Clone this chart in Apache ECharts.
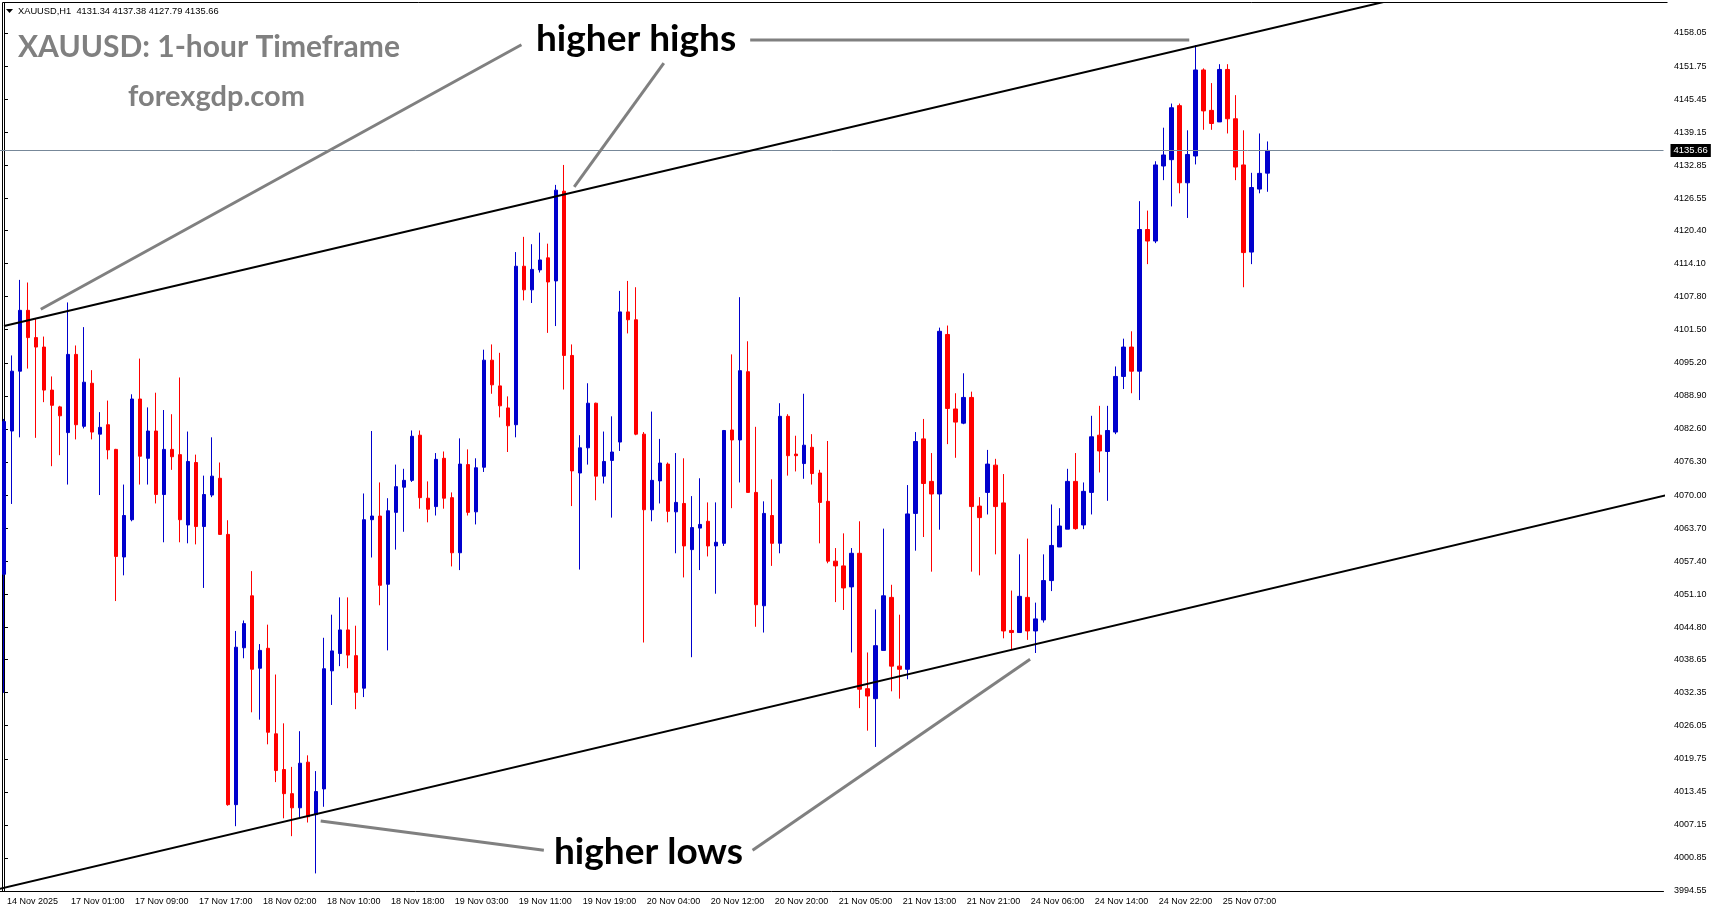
<!DOCTYPE html>
<html>
<head>
<meta charset="utf-8">
<title>XAUUSD H1</title>
<script src="https://cdn.jsdelivr.net/npm/echarts@6.0.0/dist/echarts.min.js"></script>
<style>
  html, body { margin: 0; padding: 0; background: #fff; }
  #main { width: 1714px; height: 915px; }
</style>
</head>
<body>
<div id="main"></div>
<script>
  // time labels, one every 8 bars
  const xLabels = ['14 Nov 2025', '17 Nov 01:00', '17 Nov 09:00', '17 Nov 17:00', '18 Nov 02:00',
    '18 Nov 10:00', '18 Nov 18:00', '19 Nov 03:00', '19 Nov 11:00', '19 Nov 19:00',
    '20 Nov 04:00', '20 Nov 12:00', '20 Nov 20:00', '21 Nov 05:00', '21 Nov 13:00',
    '21 Nov 21:00', '24 Nov 06:00', '24 Nov 14:00', '24 Nov 22:00', '25 Nov 07:00'];

  const opens = [
    4054.9, 4082.2, 4093.6, 4105.2, 4100.0, 4098.2, 4090.0, 4086.8, 4081.9, 4096.8,
    4083.1, 4091.3, 4081.6, 4083.4, 4078.7, 4058.2, 4065.3, 4088.3, 4077.0, 4082.2,
    4070.1, 4078.7, 4077.7, 4064.3, 4076.2, 4064.0, 4070.0, 4073.2, 4062.5, 4011.0,
    4040.9, 4050.8, 4037.0, 4040.8, 4024.5, 4017.7, 4013.1, 4010.4, 4019.1, 4009.1,
    4014.0, 4036.5, 4039.8, 4044.3, 4039.4, 4033.2, 4065.3, 4066.0, 4053.0, 4066.7,
    4071.5, 4072.8, 4081.4, 4069.4, 4067.8, 4077.0, 4069.5, 4059.0, 4075.8, 4066.8,
    4075.3, 4095.7, 4090.8, 4086.6, 4083.4, 4113.6, 4109.1, 4112.9, 4115.2, 4110.8,
    4127.9, 4096.6, 4074.2, 4079.0, 4087.5, 4073.6, 4076.6, 4080.1, 4104.9, 4103.4,
    4081.6, 4067.2, 4072.7, 4075.9, 4066.8, 4068.4, 4059.6, 4063.7, 4065.0, 4060.3,
    4060.8, 4082.4, 4080.5, 4093.5, 4070.5, 4048.9, 4066.1, 4060.8, 4085.0, 4077.8,
    4076.0, 4079.1, 4074.2, 4068.8, 4057.4, 4056.5, 4052.5, 4058.9, 4033.1, 4031.2,
    4040.4, 4050.5, 4037.4, 4036.8, 4066.5, 4080.7, 4072.6, 4070.2, 4100.6, 4086.4,
    4083.7, 4088.6, 4067.9, 4070.5, 4075.7, 4068.5, 4044.2, 4043.8, 4050.5, 4044.1,
    4046.2, 4053.7, 4060.1, 4063.5, 4072.6, 4064.3, 4070.5, 4081.4, 4078.3, 4082.0,
    4092.6, 4098.2, 4093.6, 4120.6, 4118.4, 4132.7, 4133.9, 4144.2, 4129.5, 4134.6,
    4151.0, 4143.3, 4141.1, 4151.1, 4141.7, 4132.9, 4116.3, 4128.3, 4131.34];

  const highs = [
    4084.5, 4096.6, 4111.0, 4110.5, 4103.6, 4100.2, 4092.6, 4087.0, 4106.7, 4098.5,
    4102.0, 4093.8, 4085.8, 4088.0, 4078.8, 4072.0, 4089.2, 4096.0, 4086.7, 4089.5,
    4086.2, 4085.4, 4092.4, 4082.1, 4077.7, 4073.7, 4081.0, 4076.2, 4065.2, 4044.1,
    4046.1, 4055.5, 4041.6, 4045.3, 4035.8, 4026.5, 4018.2, 4025.0, 4020.4, 4017.4,
    4042.8, 4047.2, 4050.5, 4050.5, 4045.1, 4070.3, 4082.2, 4072.4, 4069.4, 4075.8,
    4075.0, 4082.3, 4082.3, 4072.6, 4078.0, 4078.3, 4070.5, 4080.8, 4078.7, 4077.0,
    4097.7, 4098.7, 4097.1, 4088.8, 4116.3, 4119.2, 4117.8, 4120.0, 4117.9, 4129.1,
    4132.9, 4098.7, 4081.4, 4091.3, 4087.6, 4082.1, 4085.0, 4108.9, 4110.8, 4109.6,
    4082.0, 4085.9, 4080.7, 4076.2, 4078.0, 4077.0, 4069.8, 4073.2, 4068.6, 4068.6,
    4082.4, 4096.8, 4107.7, 4099.3, 4083.0, 4068.8, 4073.0, 4087.5, 4085.4, 4081.3,
    4089.3, 4081.6, 4074.8, 4080.3, 4059.9, 4062.7, 4059.9, 4065.0, 4040.0, 4048.2,
    4063.6, 4052.9, 4047.2, 4071.9, 4082.0, 4084.5, 4078.0, 4101.9, 4102.3, 4089.4,
    4093.2, 4089.7, 4069.6, 4078.6, 4076.9, 4074.0, 4051.8, 4058.7, 4061.7, 4049.5,
    4058.7, 4068.2, 4067.5, 4075.0, 4078.0, 4072.4, 4085.1, 4087.0, 4087.0, 4094.5,
    4099.8, 4101.2, 4126.0, 4124.2, 4133.6, 4140.0, 4144.6, 4144.6, 4139.5, 4155.7,
    4151.3, 4148.5, 4152.1, 4152.1, 4146.2, 4139.5, 4131.4, 4138.9, 4137.38];

  const lows = [
    4032.3, 4068.3, 4081.0, 4094.1, 4080.9, 4087.7, 4075.5, 4077.6, 4072.0, 4080.6,
    4082.7, 4080.6, 4070.0, 4076.8, 4049.8, 4054.7, 4065.0, 4072.0, 4072.0, 4068.4,
    4061.0, 4074.8, 4061.0, 4060.8, 4060.6, 4052.3, 4069.6, 4062.4, 4010.8, 4006.9,
    4038.9, 4028.6, 4027.2, 4022.5, 4015.3, 4008.4, 4005.0, 4008.5, 4007.6, 3997.9,
    4010.6, 4030.0, 4037.4, 4037.0, 4029.2, 4031.5, 4058.1, 4049.0, 4040.4, 4059.6,
    4063.0, 4072.5, 4067.4, 4064.8, 4066.1, 4067.4, 4056.4, 4055.7, 4066.1, 4064.4,
    4074.4, 4089.3, 4084.8, 4078.2, 4081.0, 4107.1, 4106.6, 4112.4, 4100.9, 4102.2,
    4090.1, 4067.9, 4055.8, 4075.8, 4069.0, 4072.2, 4065.7, 4078.4, 4100.8, 4081.4,
    4041.9, 4065.0, 4068.4, 4064.8, 4058.9, 4054.3, 4039.1, 4055.7, 4058.3, 4051.2,
    4060.3, 4067.5, 4072.4, 4070.5, 4044.9, 4043.8, 4056.5, 4058.9, 4073.7, 4074.5,
    4073.1, 4072.0, 4060.8, 4057.0, 4049.6, 4048.1, 4040.0, 4029.4, 4025.1, 4022.0,
    4040.4, 4032.6, 4031.2, 4034.9, 4059.4, 4062.0, 4055.4, 4063.4, 4079.7, 4077.1,
    4083.5, 4055.4, 4054.7, 4066.3, 4058.7, 4042.7, 4040.5, 4043.8, 4042.4, 4039.9,
    4045.7, 4051.7, 4060.1, 4063.5, 4063.4, 4063.5, 4066.3, 4074.3, 4068.9, 4081.6,
    4090.2, 4089.4, 4088.1, 4114.0, 4118.0, 4130.0, 4125.0, 4127.5, 4122.8, 4133.0,
    4139.6, 4139.6, 4141.1, 4138.9, 4130.0, 4109.6, 4114.0, 4127.5, 4127.79];

  const closes = [
    4084.0, 4093.6, 4105.2, 4100.0, 4098.2, 4090.0, 4087.1, 4085.1, 4096.8, 4083.4,
    4091.5, 4082.0, 4082.9, 4078.6, 4058.3, 4066.1, 4088.3, 4077.4, 4082.2, 4070.1,
    4078.7, 4077.3, 4065.3, 4076.4, 4064.0, 4070.1, 4073.6, 4062.5, 4011.0, 4041.0,
    4045.5, 4036.8, 4040.4, 4024.8, 4017.5, 4013.1, 4010.4, 4018.9, 4008.7, 4013.5,
    4036.9, 4040.3, 4044.3, 4039.5, 4032.4, 4065.3, 4066.0, 4052.8, 4067.0, 4071.6,
    4072.8, 4081.2, 4069.5, 4067.3, 4076.8, 4069.4, 4059.0, 4075.9, 4066.7, 4075.2,
    4095.7, 4091.0, 4087.0, 4083.2, 4113.6, 4109.1, 4113.0, 4114.8, 4110.6, 4128.1,
    4096.6, 4074.6, 4079.0, 4087.5, 4073.6, 4076.4, 4078.2, 4104.9, 4103.4, 4081.6,
    4067.2, 4072.8, 4076.1, 4066.9, 4068.6, 4060.3, 4063.8, 4064.4, 4060.3, 4061.0,
    4082.3, 4080.5, 4093.7, 4070.5, 4049.1, 4066.5, 4060.8, 4085.0, 4077.5, 4077.5,
    4079.5, 4074.1, 4068.6, 4057.4, 4056.5, 4052.3, 4058.9, 4033.0, 4031.7, 4041.3,
    4050.8, 4037.4, 4036.8, 4066.4, 4080.2, 4072.2, 4070.2, 4101.2, 4086.5, 4083.9,
    4088.6, 4067.8, 4065.7, 4075.9, 4067.8, 4044.1, 4043.8, 4050.7, 4044.1, 4046.4,
    4053.7, 4060.4, 4064.1, 4072.6, 4063.6, 4070.7, 4081.1, 4078.4, 4082.3, 4092.6,
    4098.2, 4093.6, 4120.6, 4118.4, 4132.9, 4134.8, 4143.8, 4129.5, 4134.9, 4151.0,
    4143.2, 4140.8, 4151.1, 4141.7, 4132.5, 4116.2, 4128.6, 4131.3, 4135.66];

  // price scale labels as printed on the right side
  const yLabels = [3994.55, 4000.85, 4007.15, 4013.45, 4019.75, 4026.05, 4032.35, 4038.65,
    4044.80, 4051.10, 4057.40, 4063.70, 4070.00, 4076.30, 4082.60, 4088.90, 4095.20,
    4101.50, 4107.80, 4114.10, 4120.40, 4126.55, 4132.85, 4139.15, 4145.45, 4151.75, 4158.05];

  const lastPrice = 4135.66;
  const slotCount = 208;
  const labelStep = 8;

  // trend channel and pointer lines, as [bar index, price]
  const upperChannel = [[0, 4102.2], [176, 4165.2]];
  const lowerChannel = [[-1, 3994.8], [209, 4070.4]];
  const pointerLines = [
    [[4.6, 4105.4], [64.7, 4155.8]],
    [[71.3, 4128.7], [82.5, 4152.3]],
    [[93.3, 4156.7], [148.2, 4156.7]],
    [[39.6, 4007.9], [67.5, 4002.3]],
    [[93.6, 4002.3], [128.3, 4038.7]]
  ];

  const axisFont = '"Liberation Sans", Arial, sans-serif';
  const categories = [];
  for (let i = 0; i < slotCount; i++) {
    const k = i / labelStep;
    categories.push(i % labelStep === 0 && k < xLabels.length ? xLabels[k] : 'slot' + i);
  }
  const showLabel = (i) => i % labelStep === 0 && i / labelStep < xLabels.length;
  const candles = opens.map((o, i) => [o, closes[i], lows[i], highs[i]]);

  const lineSeries = (pts, color, width) => ({
    type: 'line',
    xAxisIndex: 1,
    yAxisIndex: 0,
    data: pts,
    symbol: 'none',
    silent: true,
    clip: true,
    animation: false,
    z: 5,
    lineStyle: { color: color, width: width }
  });

  let myechart = echarts.init(document.getElementById('main'));
  let option = {
    animation: false,
    backgroundColor: '#fff',
    grid: { left: -0.5, right: 50.5, top: 3, bottom: 24 },
    xAxis: [{
      type: 'category',
      data: categories,
      boundaryGap: true,
      axisLine: { lineStyle: { color: '#000', width: 1 } },
      axisTick: { alignWithLabel: true, interval: showLabel, length: 4, lineStyle: { color: '#000' } },
      axisLabel: {
        interval: showLabel, align: 'left', padding: [0, 0, 0, 3], margin: 6,
        color: '#000', fontFamily: axisFont, fontSize: 9
      },
      splitLine: { show: false }
    }, {
      type: 'value', min: -0.5, max: slotCount - 0.5, show: false
    }],
    yAxis: {
      type: 'value',
      position: 'right',
      offset: 3.5,
      min: 3994.55,
      max: 4163.76,
      axisLine: { show: true, lineStyle: { color: '#000', width: 1 } },
      axisTick: { show: true, length: 4, customValues: yLabels, lineStyle: { color: '#000' } },
      axisLabel: {
        customValues: yLabels, formatter: (v) => v.toFixed(2), margin: 7,
        color: '#000', fontFamily: axisFont, fontSize: 9
      },
      splitLine: { show: false }
    },
    series: [{
      type: 'candlestick',
      data: candles,
      barWidth: 4,
      z: 3,
      itemStyle: {
        color: '#0000CD', color0: '#FF0000',
        borderColor: '#0000CD', borderColor0: '#FF0000', borderWidth: 1
      },
      markLine: {
        silent: true,
        animation: false,
        symbol: ['none', 'none'],
        lineStyle: { color: '#778899', width: 1, type: 'solid' },
        label: {
          show: true, position: 'end', distance: 7, formatter: lastPrice.toFixed(2),
          color: '#fff', backgroundColor: '#000', padding: [2, 3, 1, 3],
          fontFamily: axisFont, fontSize: 9.5
        },
        data: [{ yAxis: lastPrice }]
      }
    },
      lineSeries(upperChannel, '#000', 2),
      lineSeries(lowerChannel, '#000', 2)
    ].concat(pointerLines.map(p => lineSeries(p, '#808080', 3))),
    graphic: [
      { type: 'polyline', silent: true, shape: { points: [[2.5, 891], [2.5, 2.5], [1667.5, 2.5]] },
        style: { stroke: '#000', lineWidth: 1, fill: null } },
      { type: 'polygon', silent: true, shape: { points: [[6, 9], [13, 9], [9.5, 13]] }, style: { fill: '#000' } },
      { type: 'text', silent: true, x: 18, y: 11,
        style: { text: 'XAUUSD,H1  4131.34 4137.38 4127.79 4135.66', fill: '#000',
          font: '9.3px "Liberation Sans", Arial, sans-serif', align: 'left', verticalAlign: 'middle' } },
      { type: 'text', silent: true, x: 18, y: 47,
        style: { text: 'XAUUSD: 1-hour Timeframe', fill: '#808080',
          font: 'bold 30px Lato, sans-serif', align: 'left', verticalAlign: 'middle' } },
      { type: 'text', silent: true, x: 216.5, y: 97,
        style: { text: 'forexgdp.com', fill: '#808080',
          font: 'bold 29px Lato, sans-serif', align: 'center', verticalAlign: 'middle' } },
      { type: 'text', silent: true, x: 536, y: 39,
        style: { text: 'higher highs', fill: '#000',
          font: 'bold 37px Lato, sans-serif', align: 'left', verticalAlign: 'middle' } },
      { type: 'text', silent: true, x: 554, y: 852,
        style: { text: 'higher lows', fill: '#000',
          font: 'bold 37px Lato, sans-serif', align: 'left', verticalAlign: 'middle' } }
    ]
  };
  myechart.setOption(option);
</script>
</body>
</html>
